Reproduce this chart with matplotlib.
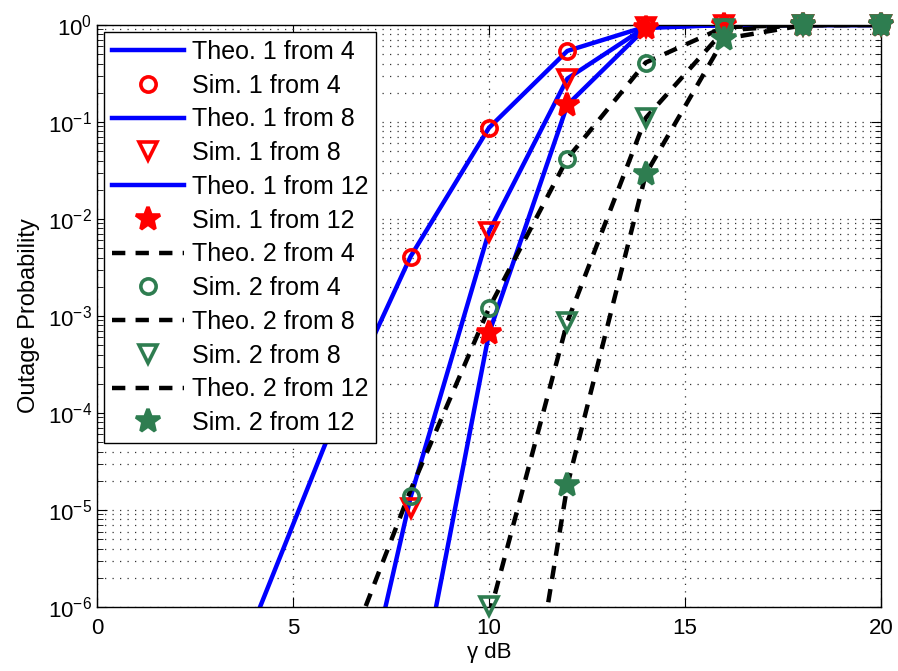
import numpy as np
import matplotlib.pyplot as plt

plt.rcParams['font.family'] = ['Liberation Sans', 'DejaVu Sans']
plt.rcParams['mathtext.fontset'] = 'custom'
plt.rcParams['mathtext.rm'] = 'Liberation Sans'
plt.rcParams['mathtext.it'] = 'Liberation Sans:italic'

nan = np.nan
gamma_db = [0, 2, 4, 6, 8, 10, 12, 14, 16, 18, 20]

# theoretical outage curves
theo1_from4 = [nan, nan, 6.9e-7, 7.2e-5, 4.1e-3, 0.087, 0.54, 0.96, 0.999, 1, 1]
theo1_from8 = [nan, nan, nan, 4e-9, 1.35e-5, 7.4e-3, 0.28, 0.95, 0.999, 1, 1]
theo1_from12 = [nan, nan, nan, nan, 4.4e-8, 6.6e-4, 0.15, 0.93, 0.999, 1, 1]
theo2_from4 = [nan, nan, nan, 1.3e-7, 1.6e-5, 1.2e-3, 0.042, 0.41, 0.95, 0.998, 1]
theo2_from8 = [nan, nan, nan, nan, nan, 8e-7, 8.7e-4, 0.11, 0.88, 0.997, 1]
theo2_from12 = [nan, nan, nan, nan, nan, 2e-10, 1.8e-5, 0.029, 0.72, 0.99, 1]

# simulated points
sim1_from4 = [nan, nan, nan, nan, 4.1e-3, 0.087, 0.54, 0.97, 1, 1, 1]
sim1_from8 = [nan, nan, nan, nan, 1.05e-5, 7.3e-3, 0.28, 0.95, 1, 1, 1]
sim1_from12 = [nan, nan, nan, nan, nan, 6.6e-4, 0.15, 0.92, 1, 1, 1]
sim2_from4 = [nan, nan, nan, nan, 1.4e-5, 1.2e-3, 0.042, 0.41, 0.95, 1, 1]
sim2_from8 = [nan, nan, nan, nan, nan, 1.02e-6, 8.7e-4, 0.11, 0.9, 1, 1]
sim2_from12 = [nan, nan, nan, nan, nan, nan, 1.8e-5, 0.029, 0.72, 1, 1]

red = '#FF0000'
green = '#2E7D50'
blue = '#0000FF'

fig = plt.figure(figsize=(8.98, 6.71), dpi=100)
ax = fig.add_axes([0.108, 0.0954, 0.873, 0.8674])

def theo(y, style, label):
    if style == 1:
        ax.plot(gamma_db, y, color=blue, lw=3.2, label=label)
    else:
        ax.plot(gamma_db, y, color='k', lw=3.2, dashes=(3.0, 2.3), label=label)

def sim(y, marker, color, label, ms):
    ax.plot(gamma_db, y, ls='none', marker=marker, ms=ms, mew=2.6,
            mec=color, mfc=color if marker == '*' else 'none',
            label=label, clip_on=False, zorder=5)

theo(theo1_from4, 1, 'Theo. 1 from 4')
sim(sim1_from4, 'o', red, 'Sim. 1 from 4', 11)
theo(theo1_from8, 1, 'Theo. 1 from 8')
sim(sim1_from8, 'v', red, 'Sim. 1 from 8', 13)
theo(theo1_from12, 1, 'Theo. 1 from 12')
sim(sim1_from12, '*', red, 'Sim. 1 from 12', 18)
theo(theo2_from4, 2, 'Theo. 2 from 4')
sim(sim2_from4, 'o', green, 'Sim. 2 from 4', 11)
theo(theo2_from8, 2, 'Theo. 2 from 8')
sim(sim2_from8, 'v', green, 'Sim. 2 from 8', 13)
theo(theo2_from12, 2, 'Theo. 2 from 12')
sim(sim2_from12, '*', green, 'Sim. 2 from 12', 18)

ax.set_yscale('log')
ax.set_xlim(0, 20)
ax.set_ylim(1e-6, 1)
ax.set_xticks([0, 5, 10, 15, 20])
ax.tick_params(which='both', direction='in', top=True, right=True, labelsize=16)
ax.tick_params(which='major', length=7, width=0.8)
ax.tick_params(which='minor', length=4, width=0.6)
ax.tick_params(axis='x', pad=8)
ax.grid(True, which='major', ls=(0, (1, 5)), lw=0.9, color='#333333')
ax.grid(True, which='minor', axis='y', ls=(0, (1, 5)), lw=0.9, color='#333333')
for s in ax.spines.values():
    s.set_linewidth(1)

ax.set_xlabel('γ dB', fontsize=16, labelpad=2)
ax.set_ylabel('Outage Probability', fontsize=17, labelpad=6)

leg = ax.legend(loc='upper left', fontsize=18, fancybox=False, framealpha=1,
                edgecolor='k', numpoints=1, handlelength=2.9,
                handletextpad=0.3, labelspacing=0.39, borderaxespad=0.3,
                borderpad=0.3)
leg.get_frame().set_linewidth(1)

fig.savefig('out.png', dpi=100)
